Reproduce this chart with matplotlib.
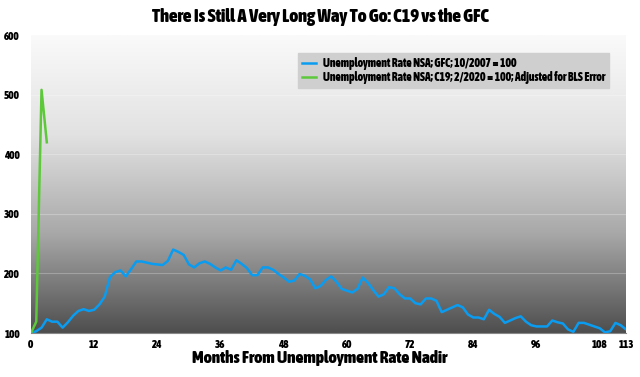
import matplotlib
matplotlib.use("Agg")
import matplotlib.pyplot as plt
import numpy as np
from matplotlib import font_manager
from matplotlib.font_manager import FontProperties
from matplotlib.colors import LinearSegmentedColormap

# ---- data ----
gfc_values = [100, 103, 109, 123, 119, 119, 109, 118, 129, 137,
              140, 137, 139, 148, 161, 194, 202, 205, 195, 207,
              220, 220, 218, 216, 215, 214, 221, 240, 236, 231,
              215, 210, 217, 220, 216, 210, 205, 210, 206, 222,
              216, 209, 197, 197, 210, 210, 206, 199, 193, 186,
              188, 199, 196, 190, 175, 179, 189, 195, 186, 174,
              171, 168, 174, 193, 184, 172, 161, 165, 177, 175,
              165, 158, 158, 150, 148, 158, 158, 154, 135, 139,
              143, 147, 143, 131, 126, 126, 123, 139, 132, 127,
              117, 121, 125, 128, 119, 113, 111, 111, 111, 121,
              118, 116, 106, 102, 117, 117, 114, 111, 108, 101,
              103, 117, 113, 106]
gfc_months = list(range(len(gfc_values)))
c19_values = [100, 119, 508, 420]
c19_months = [0, 1, 2, 3]
xticks = [0, 12, 24, 36, 48, 60, 72, 84, 96, 108, 113]
yticks = [100, 200, 300, 400, 500, 600]
gfc_label = "Unemployment Rate NSA; GFC; 10/2007 = 100"
c19_label = "Unemployment Rate NSA; C19; 2/2020 = 100; Adjusted for BLS Error"
title = "There Is Still A Very Long Way To Go: C19 vs the GFC"
xlabel = "Months From Unemployment Rate Nadir"


def pick_font():
    wmap = {"bold": 700, "black": 900, "heavy": 900, "extra bold": 800,
            "semibold": 600, "demibold": 600, "normal": 400, "regular": 400}
    best, bscore = None, -1
    for f in font_manager.fontManager.ttflist:
        fn = f.fname.lower().replace("-", "").replace("_", "")
        if f.style != "normal" or "italic" in fn:
            continue
        wt = f.weight if isinstance(f.weight, int) else wmap.get(str(f.weight).lower(), 400)
        if "extracondensed" in fn:
            c = 25
        elif "semicondensed" in fn:
            c = 20
        elif "condensed" in fn or "narrow" in fn or "condensed" in str(f.stretch):
            c = 30
        else:
            continue
        if wt < 600:
            continue
        s = c + wt / 100.0
        if s > bscore:
            best, bscore = f, s
    if best is None:
        return FontProperties(family="DejaVu Sans", weight="bold")
    return FontProperties(fname=best.fname)


fp = pick_font()


def fprop(size):
    p = fp.copy()
    p.set_size(size)
    return p


fig = plt.figure(figsize=(6.4, 3.77), dpi=100)
ax = fig.add_axes([31/640, 1-333/377, (626-31)/640, (333-35)/377])
ax.set_xlim(0, 113)
ax.set_ylim(100, 600)

# gradient background (dark at bottom, light at top)
grad = np.linspace(1, 0, 256).reshape(-1, 1)
cmap = LinearSegmentedColormap.from_list("g", ["#fafafa", "#e2e2e2", "#a8a8a8", "#4e4e4e"])
ax.imshow(grad, aspect="auto", cmap=cmap, extent=[0, 113, 100, 600], zorder=0, origin="lower")

for y in yticks[1:-1]:
    ax.axhline(y, color="#ffffff", alpha=0.25, lw=0.8, zorder=1)

ax.plot(gfc_months, gfc_values, color="#0a9cf0", lw=1.8, zorder=3, label=gfc_label,
        solid_joinstyle="round")
ax.plot(c19_months, c19_values, color="#5cc83a", lw=1.8, zorder=3, label=c19_label)

for s in ["top", "right", "left"]:
    ax.spines[s].set_visible(False)
ax.spines["bottom"].set_color("#888888")
ax.spines["bottom"].set_linewidth(0.8)

ax.set_xticks(xticks)
ax.set_yticks(yticks)
ax.tick_params(length=0, pad=4)
ax.tick_params(axis="y", pad=8)
for lbl in ax.get_xticklabels() + ax.get_yticklabels():
    lbl.set_fontproperties(fprop(8))

leg = ax.legend(loc="upper right", bbox_to_anchor=((609-31)/595, 1 - (53-35)/298),
                borderaxespad=0,
                frameon=True, fancybox=False, prop=fprop(8.3), handlelength=1.2,
                borderpad=0.35, labelspacing=0.05, handletextpad=0.6)
leg.get_frame().set_facecolor("#cfcfcf")
leg.get_frame().set_edgecolor("#cfcfcf")
leg.get_frame().set_alpha(1)

fig.text(0.5, 1-17/377, title, ha="center", va="center", fontproperties=fprop(13.3))
fig.text(0.5, 1-358/377, xlabel, ha="center", va="center", fontproperties=fprop(12.4))

fig.savefig("out.png", dpi=100, facecolor="white")
